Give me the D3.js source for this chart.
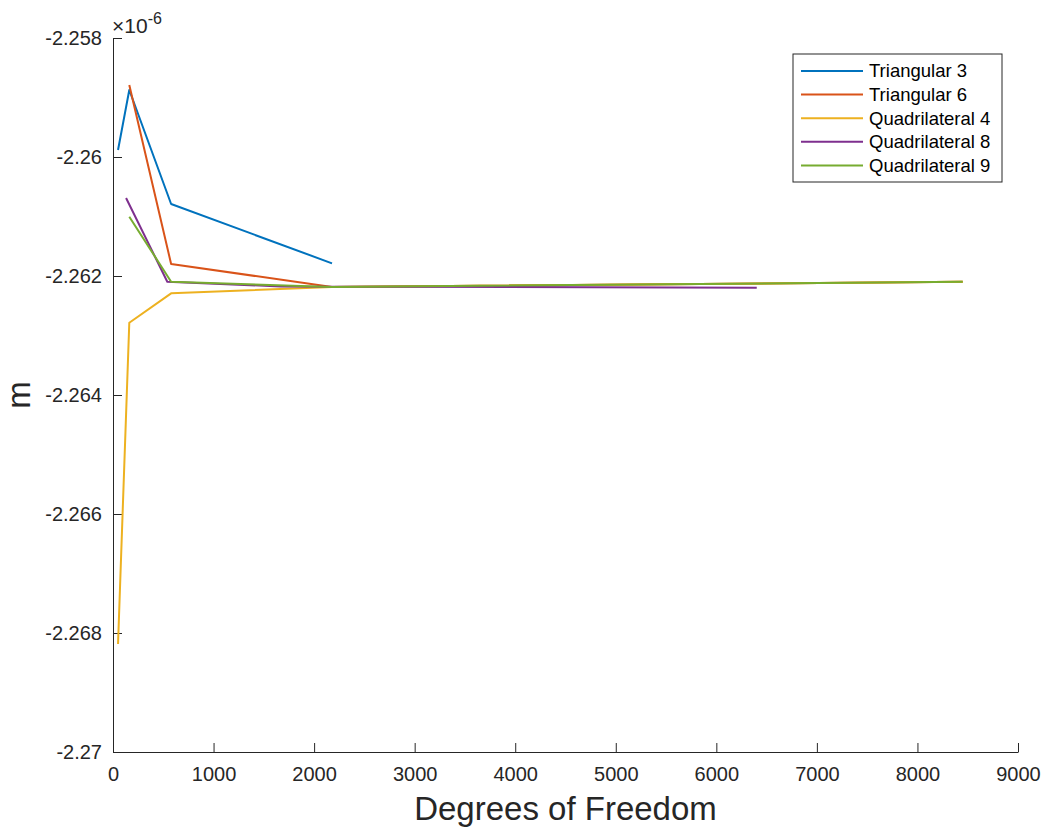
<!DOCTYPE html>
<html>
<head>
<meta charset="utf-8">
<script src="https://cdn.jsdelivr.net/npm/d3@7"></script>
<style>
  body { margin: 0; background: #fff; }
  svg text { font-family: "Liberation Sans", Arial, Helvetica, sans-serif; fill: #262626; }
</style>
</head>
<body>
<div id="chart"></div>
<script>
// values in units of 1e-6
const seriesNames = ['Triangular 3', 'Triangular 6', 'Quadrilateral 4', 'Quadrilateral 8', 'Quadrilateral 9'];
const colors = ['#0072BD', '#D95319', '#EDB120', '#7E2F8E', '#77AC30'];

const tri3Dof = [50, 162, 578, 2178];
const tri3Val = [-2.259882, -2.258874, -2.260790, -2.261787];

const tri6Dof = [162, 578, 2178, 8450];
const tri6Val = [-2.258790, -2.261798, -2.262185, -2.262096];

const quad4Dof = [50, 162, 578, 2178, 8450];
const quad4Val = [-2.268185, -2.262785, -2.262291, -2.262185, -2.262096];

const quad8Dof = [130, 540, 1666, 6402];
const quad8Val = [-2.260689, -2.262096, -2.262176, -2.262197];

const quad9Dof = [162, 578, 2178, 8450];
const quad9Val = [-2.261003, -2.262096, -2.262185, -2.262096];

const xTicks = [0, 1000, 2000, 3000, 4000, 5000, 6000, 7000, 8000, 9000];
const yTicks = [-2.258, -2.26, -2.262, -2.264, -2.266, -2.268, -2.27];

const allDof = [tri3Dof, tri6Dof, quad4Dof, quad8Dof, quad9Dof];
const allVal = [tri3Val, tri6Val, quad4Val, quad8Val, quad9Val];

const width = 1044, height = 832;
const axisColor = '#262626';

const svg = d3.select('#chart').append('svg')
    .attr('width', width)
    .attr('height', height);

const x = d3.scaleLinear().domain([0, 9000]).range([113, 1018]);
const y = d3.scaleLinear().domain([-2.27, -2.258]).range([752, 38]);

// x axis
const xAxis = svg.append('g')
    .attr('transform', `translate(0,${y.range()[0]})`)
    .call(d3.axisBottom(x).tickValues(xTicks).tickSizeInner(-9).tickSizeOuter(0).tickPadding(15)
        .tickFormat(d => String(d)));

// y axis
const yAxis = svg.append('g')
    .attr('transform', `translate(${x.range()[0]},0)`)
    .call(d3.axisLeft(y).tickValues(yTicks).tickSizeInner(-9).tickSizeOuter(0).tickPadding(11)
        .tickFormat(d => String(+d.toFixed(3))));

[xAxis, yAxis].forEach(g => {
    g.attr('font-size', null).attr('font-family', null);
    g.select('.domain').attr('stroke', axisColor).attr('stroke-width', 1);
    g.selectAll('.tick line').attr('stroke', axisColor).attr('stroke-width', 1);
    g.selectAll('.tick text')
        .style('font-size', '20px')
        .style('fill', axisColor);
});

// exponent label
const expo = svg.append('text')
    .attr('x', 112)
    .attr('y', 33)
    .style('font-size', '21px');
expo.append('tspan').text('\u00d710');
expo.append('tspan').attr('dy', -9).style('font-size', '16px').text('-6');

// axis titles
svg.append('text')
    .attr('x', (x.range()[0] + x.range()[1]) / 2)
    .attr('y', 820)
    .attr('text-anchor', 'middle')
    .style('font-size', '33px')
    .text('Degrees of Freedom');

svg.append('text')
    .attr('transform', `translate(30,${(y.range()[0] + y.range()[1]) / 2}) rotate(-90)`)
    .attr('text-anchor', 'middle')
    .style('font-size', '33px')
    .text('m');

// lines
const line = d3.line()
    .x(d => x(d[0]))
    .y(d => y(d[1]));

allDof.forEach((dofs, i) => {
    const pts = dofs.map((d, j) => [d, allVal[i][j]]);
    svg.append('path')
        .datum(pts)
        .attr('fill', 'none')
        .attr('stroke', colors[i])
        .attr('stroke-width', 2)
        .attr('stroke-linejoin', 'round')
        .attr('d', line);
});

// legend
const legend = svg.append('g').attr('transform', 'translate(793,54)');
legend.append('rect')
    .attr('width', 209)
    .attr('height', 128)
    .attr('fill', '#fff')
    .attr('stroke', axisColor)
    .attr('stroke-width', 1);

seriesNames.forEach((name, i) => {
    const ly = 17 + i * 23.6;
    legend.append('line')
        .attr('x1', 8).attr('x2', 70)
        .attr('y1', ly).attr('y2', ly)
        .attr('stroke', colors[i])
        .attr('stroke-width', 2);
    legend.append('text')
        .attr('x', 76)
        .attr('y', ly)
        .attr('dy', '0.35em')
        .style('font-size', '18.5px')
        .style('fill', '#000')
        .text(name);
});
</script>
</body>
</html>
